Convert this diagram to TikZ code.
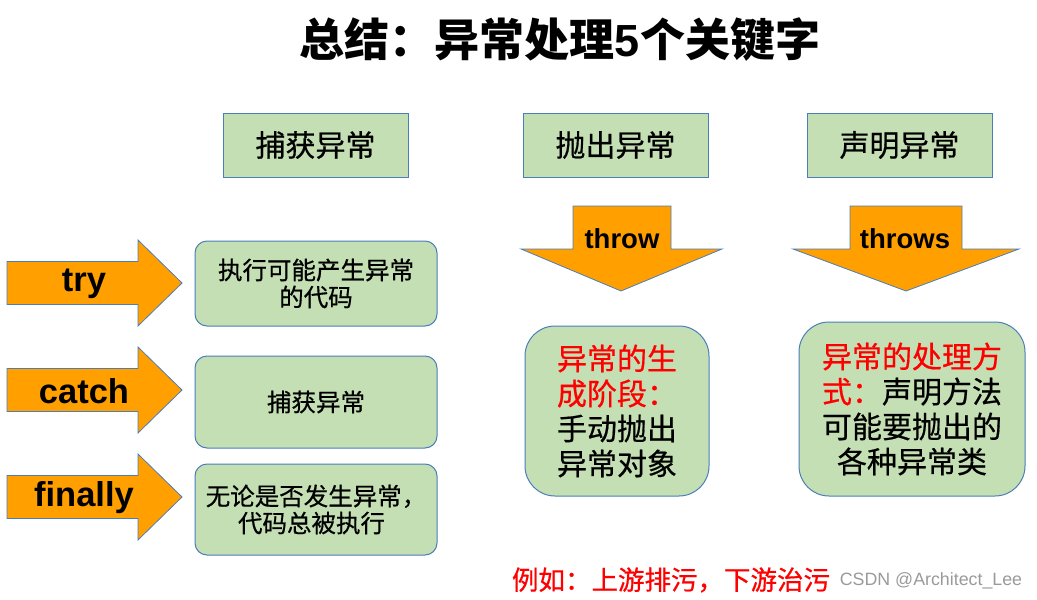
\documentclass[tikz,border=0pt]{standalone}
\usepackage{fontspec}
\setmainfont{Liberation Sans}
\newfontfamily\cjk{Noto Sans CJK SC}[FakeBold=0.6]
\newfontfamily\cjkt{Noto Sans CJK SC}
\definecolor{org}{HTML}{FF9F00}
\definecolor{grn}{HTML}{C5DFB4}
\definecolor{bdr}{HTML}{4A7EBB}
\definecolor{wm}{HTML}{9A9A9A}
\tikzset{
  tbox/.style={draw=bdr, fill=grn, line width=1pt, inner sep=0pt, minimum width=185pt, minimum height=64pt, font=\cjk\fontsize{30}{35}\selectfont},
  lbox/.style={draw=bdr, fill=grn, line width=1pt, inner sep=0pt, rounded corners=12pt, minimum width=242pt, align=center, font=\cjk\fontsize{24.5}{27}\selectfont},
  rbox/.style={draw=bdr, fill=grn, line width=1pt, inner sep=0pt, rounded corners=30pt, align=center, font=\cjk\fontsize{30}{35}\selectfont},
  arrshape/.style={draw=bdr, fill=org, line width=0.8pt},
  klabel/.style={inner sep=0pt, font=\bfseries\fontsize{34.5}{40}\selectfont},
  dlabel/.style={inner sep=0pt, font=\bfseries\fontsize{27.5}{32}\selectfont},
}
\begin{document}
\begin{tikzpicture}[x=1pt,y=-1pt]
\useasboundingbox (0,0) rectangle (1037,600);
% title
\node[inner sep=0pt, font=\bfseries\fontsize{45}{50}\selectfont] (title) at (560,40) {{\cjkt\bfseries 总结：异常处理}5{\cjkt\bfseries 个关键字}};
% top boxes
\node[tbox] (tcatch) at (315.5,145) {捕获异常};
\node[tbox] (tthrow) at (615.5,145) {抛出异常};
\node[tbox] (tthrows) at (899.5,145) {声明异常};
% right arrows
\foreach \yc/\nm/\txt in {283/try/try, 390/catch/catch, 497/finally/finally}{
  \draw[arrshape] (7,\yc-21.5) -- (138,\yc-21.5) -- (138,\yc-43) -- (182,\yc) -- (138,\yc+43) -- (138,\yc+21.5) -- (7,\yc+21.5) -- cycle;
  \node[klabel] (\nm) at (84,\yc+1) {\txt};
}
% left boxes
\node[lbox, minimum height=85pt] (b1) at (316,283.5) {执行可能产生异常\\的代码};
\node[lbox, minimum height=92pt] (b2) at (316,402) {捕获异常};
\node[lbox, minimum height=91pt] (b3) at (316,509.5) {无论是否发生异常，\\代码总被执行\hspace*{9pt}};
% down arrows
\draw[arrshape] (573,206) -- (671,206) -- (671,249) -- (722,249) -- (621,291) -- (521,249) -- (573,249) -- cycle;
\node[dlabel] (throw) at (622,239) {throw};
\draw[arrshape] (850,206) -- (962,206) -- (962,249) -- (1019,249) -- (906,291) -- (793,249) -- (850,249) -- cycle;
\node[dlabel] (throws) at (905,239) {throws};
% right boxes
\node[rbox, minimum width=184pt, minimum height=170pt] (r1) at (617,411) {\textcolor{red}{异常的生}\\\textcolor{red}{成阶段：}\\手动抛出\\异常对象};
\node[rbox, minimum width=226pt, minimum height=174pt] (r2) at (912,409) {\textcolor{red}{异常的处理方}\\\textcolor{red}{式：}声明方法\\可能要抛出的\\各种异常类};
% bottom text
\node[inner sep=0pt, text=red, font=\cjk\fontsize{26.5}{30}\selectfont] (note) at (671,580) {例如：上游排污，下游治污};
\node[inner sep=0pt, text=wm, font=\fontsize{17.8}{20}\selectfont] (wmark) at (931,581) {CSDN @Architect\_Lee};
\end{tikzpicture}
\end{document}
